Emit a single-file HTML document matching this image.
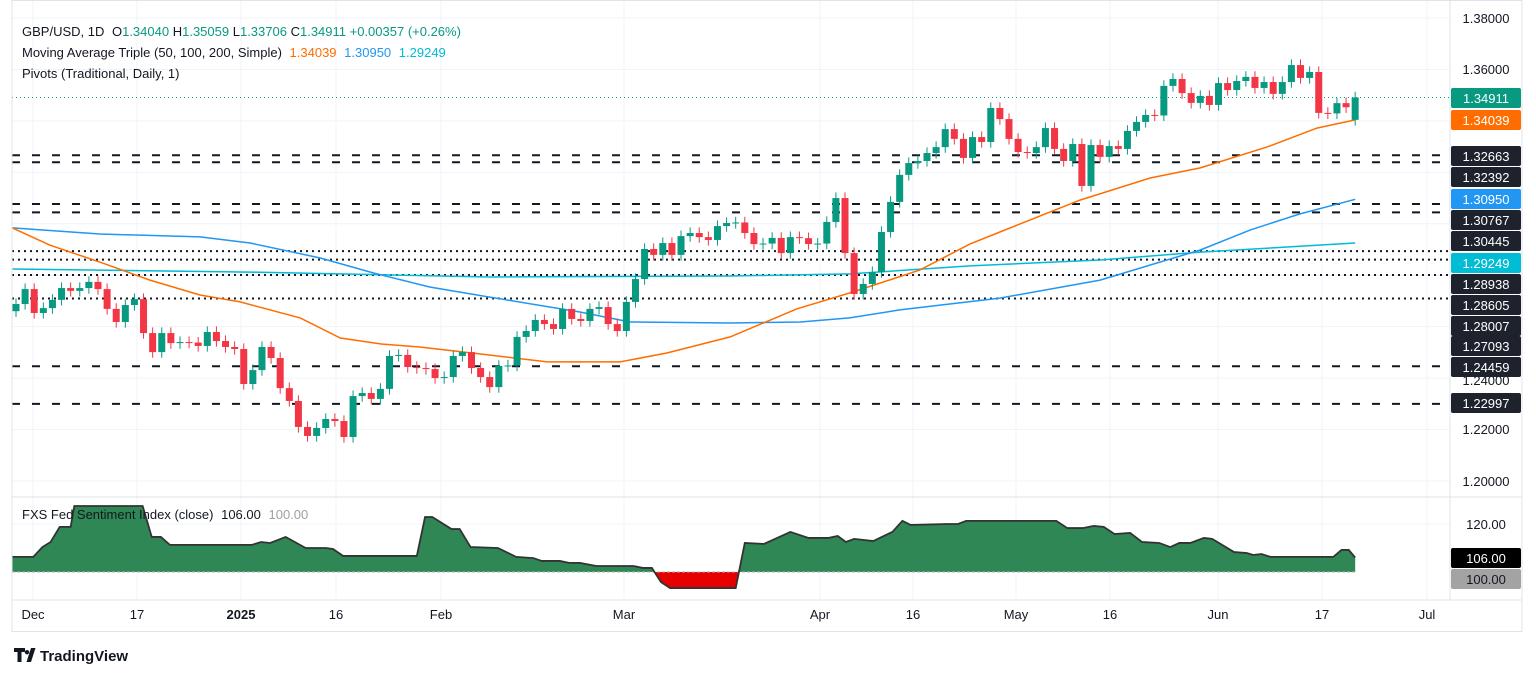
<!DOCTYPE html>
<html><head><meta charset="utf-8"><style>
html,body{margin:0;padding:0;background:#fff;}
svg{display:block;font-family:"Liberation Sans",Arial,sans-serif;}
</style></head><body>
<svg id="chart" width="1536" height="675" viewBox="0 0 1536 675" xmlns="http://www.w3.org/2000/svg">
<g id="grid"></g>
<g id="pivots"></g>
<g id="mas"></g>
<g id="candles"></g>
<g id="sent"></g>
<g id="axes"></g>
<g font-size="13" fill="#131722">
<text x="22" y="36">GBP/USD, 1D <tspan dx="4" fill="#131722">O</tspan><tspan fill="#089981">1.34040</tspan> <tspan fill="#131722">H</tspan><tspan fill="#089981">1.35059</tspan> <tspan fill="#131722">L</tspan><tspan fill="#089981">1.33706</tspan> <tspan fill="#131722">C</tspan><tspan fill="#089981">1.34911 +0.00357 (+0.26%)</tspan></text>
<text x="22" y="57">Moving Average Triple (50, 100, 200, Simple) <tspan dx="4" fill="#ff6d00">1.34039</tspan> <tspan dx="4" fill="#2196f3">1.30950</tspan> <tspan dx="4" fill="#00bcd4">1.29249</tspan></text>
<text x="22" y="78">Pivots (Traditional, Daily, 1)</text>
<text x="22" y="519">FXS Fed Sentiment Index (close) <tspan dx="4">106.00</tspan> <tspan dx="4" fill="#a0a0a0">100.00</tspan></text>
</g>
<g>
<path d="M14 648h11v4h-3.5v10h-4v-10H14z M27 650a2.2 2.2 0 1 0 0.01 0z M31 648h4.5l-4.5 14h-4.5z" fill="#131722"/>
<text x="40" y="661" font-size="15" font-weight="bold" fill="#131722">TradingView</text>
</g>
</svg>
<script>
// ---- data ----
const closes = [1.2688,1.2746,1.2653,1.2672,1.2704,1.2750,1.2739,1.2750,1.2774,1.2746,1.2669,1.2618,1.2684,1.2707,1.2575,1.2501,1.2575,1.2536,1.2540,1.2538,1.2525,1.2579,1.2544,1.2521,1.2513,1.2377,
1.2431,1.2521,1.2478,1.2361,1.2311,1.2210,1.2175,1.2206,1.2241,1.2233,1.2171,1.2330,1.2342,1.2319,1.2358,1.2486,1.2490,1.2443,1.2439,1.2435,1.2400,1.2404,1.2486,1.2501,1.2439,1.2404,1.2365,
1.2447,1.2449,1.2560,1.2583,1.2626,1.2610,1.2591,1.2669,1.2630,1.2622,1.2669,1.2676,1.2610,1.2583,1.2696,1.2785,1.2902,1.2879,1.2925,1.2879,1.2952,1.2964,1.2948,1.2937,1.2991,1.3003,
1.3005,1.2964,1.2921,1.2923,1.2945,1.2886,1.2948,1.2944,1.2921,1.2923,1.3007,1.3100,1.2886,1.2727,1.2766,1.2812,1.2968,1.3085,1.3190,1.3236,1.3244,1.3275,1.3298,1.3368,1.3330,1.3256,
1.3337,1.3318,1.3450,1.3407,1.3330,1.3279,1.3275,1.3298,1.3372,1.3291,1.3244,1.3310,1.3147,1.3306,1.3260,1.3302,1.3291,1.3361,1.3396,1.3423,1.3421,1.3536,1.3563,1.3508,1.3470,1.3497,
1.3462,1.3547,1.3520,1.3555,1.3571,1.3528,1.3551,1.3505,1.3551,1.3617,1.3567,1.3590,1.3431,1.3429,1.3469,1.3453,1.3491];
const firstOpen = 1.2660;
const lastOpen = 1.3404;
const ma50Idx = [-0.4,3.7,9.2,14.7,20.2,24.6,31.2,35.6,40.0,44.3,50.9,58.3,66.3,71.5,78.4,85.7,91.9,99.2,104.7,108.0,116.8,124.5,130.0,137.3,142.8,147];
const ma50Val = [1.2984,1.2917,1.2851,1.2781,1.2723,1.2696,1.2634,1.2556,1.2533,1.2521,1.2494,1.2463,1.2463,1.2498,1.2560,1.2669,1.2735,1.2820,1.2921,1.2968,1.3092,1.3178,1.3217,1.3298,1.3372,1.3404];
const ma100Idx = [-0.4,9.2,20.2,25.7,33.4,39.2,45.4,52.0,61.9,67.4,78.4,86.1,91.5,97.0,108.0,119.0,130.0,135.5,140.9,147];
const ma100Val = [1.2984,1.2960,1.2949,1.2925,1.2867,1.2809,1.2754,1.2715,1.2657,1.2618,1.2614,1.2618,1.2634,1.2665,1.2711,1.2781,1.2898,1.2976,1.3038,1.3095];
const ma200Idx = [-0.4,25.7,52.0,78.4,91.5,104.7,119.0,130.0,147];
const ma200Val = [1.2824,1.2812,1.2793,1.2797,1.2805,1.2836,1.2859,1.2890,1.2925];
const pivotDashed = [1.32663,1.32392,1.30767,1.30445,1.24459,1.22997];
const pivotDotted = [1.28938,1.28605,1.28007,1.27093];
const priceTicks = [1.38,1.36,1.34,1.32,1.30,1.28,1.26,1.24,1.22,1.20];
const sentIdx = [-0.4,1.9,2.9,3.8,4.8,6.0,6.4,13.9,14.9,15.9,16.9,25.9,26.9,27.9,29.6,31.8,34.0,34.8,35.9,44.0,44.9,45.7,47.8,48.7,49.9,52.9,54.9,56.8,57.7,59.7,60.7,61.9,63.7,67.8,68.8,69.8,70.8,71.8,79.0,80.0,82.1,85.0,87.0,89.2,90.2,91.1,92.0,94.1,96.2,97.3,98.2,102.2,103.4,104.3,114.2,115.4,117.1,118.3,119.4,120.6,122.3,123.6,125.5,126.7,127.7,128.9,130.4,131.3,133.7,135.1,135.8,136.7,137.7,144.6,145.5,146.3,147];
const sentVal = [106.3,106.3,110.4,112.5,118.8,118.8,127.5,127.5,114.6,114.6,111.3,111.3,112.5,112.1,114.6,110.0,110.0,109.6,106.7,106.7,122.9,122.9,117.9,117.9,110.4,110.0,106.3,105.8,104.6,104.6,103.8,103.8,102.5,102.5,101.7,101.7,95.8,93.3,93.3,112.1,111.7,116.7,114.2,114.2,115.0,112.5,113.8,112.9,116.7,121.3,119.6,120.0,120.0,121.3,121.3,118.3,118.3,119.2,118.8,115.8,116.3,112.5,112.1,110.4,112.1,112.1,114.2,113.8,108.3,107.9,107.1,107.5,106.3,106.3,109.2,109.2,106.0];
const timeLabels = ["Dec","17","2025","16","Feb","Mar","Apr","16","May","16","Jun","17","Jul"];
const timeLabelX = [33,137,241,336,441,624,820,913,1016,1110,1218,1322,1427];

// ---- scales ----
const NS="http://www.w3.org/2000/svg";
const PL=12, PR=1450, PT=0, PB=497;
function xOf(i){return 16+i*9.11;}
function yOf(p){return 18+(1.38-p)*2572;}
function ySent(v){return 572-(v-100)*2.4;}
function mk(tag,attrs,parent){const e=document.createElementNS(NS,tag);for(const k in attrs)e.setAttribute(k,attrs[k]);parent.appendChild(e);return e;}
const G=id=>document.getElementById(id);

// grid
const grid=G('grid');
priceTicks.forEach(p=>{const l=mk('line',{x1:PL,x2:PR,y1:yOf(p),y2:yOf(p),stroke:'#f0f3fa','stroke-width':1},grid);

});
timeLabelX.forEach(x=>{const l=mk('line',{x1:x,x2:x,y1:0,y2:600,stroke:'#f0f3fa','stroke-width':1},grid);

});
[524,572-(-20)*2.4].forEach(y=>{});
const sg=mk('line',{x1:PL,x2:PR,y1:524,y2:524,stroke:'#f0f3fa'},grid);



// pivots
const pv=G('pivots');
pivotDashed.forEach(p=>{const l=mk('line',{x1:PL,x2:PR,y1:yOf(p),y2:yOf(p),stroke:'#131722','stroke-width':2,'stroke-dasharray':'8,12'},pv);

});
pivotDotted.forEach(p=>{const l=mk('line',{x1:PL,x2:PR,y1:yOf(p),y2:yOf(p),stroke:'#131722','stroke-width':2,'stroke-dasharray':'2,4'},pv);

});
const lp=mk('line',{x1:PL,x2:PR,y1:yOf(closes[closes.length-1]),y2:yOf(closes[closes.length-1]),stroke:'#089981','stroke-width':1,'stroke-dasharray':'1,3'},pv);



// MAs
function maLine(idx,val,color,name){const pts=idx.map((d,k)=>xOf(d).toFixed(1)+','+yOf(val[k]).toFixed(1)).join(' ');
const pl=mk('polyline',{points:pts,fill:'none',stroke:color,'stroke-width':1.5},G('mas'));

}
maLine(ma200Idx,ma200Val,'#00bcd4','ma-200-line');
maLine(ma100Idx,ma100Val,'#2196f3','ma-100-line');
maLine(ma50Idx,ma50Val,'#ff6d00','ma-50-line');

// candles
const cg=G('candles');
closes.forEach((c,i)=>{
  let o = i===0?firstOpen:closes[i-1];
  if(i===closes.length-1) o=lastOpen;
  const up=c>=o, col=up?'#089981':'#f23645';
  const hi=Math.max(o,c)+0.0022, lo=Math.min(o,c)-0.0022;
  const x=xOf(i);
  const w=mk('line',{x1:x,x2:x,y1:yOf(hi),y2:yOf(lo),stroke:col,'stroke-width':1},cg);
  
  
  const top=yOf(Math.max(o,c)), h=Math.max(1,yOf(Math.min(o,c))-top);
  const b=mk('rect',{x:x-3.5,y:top,width:7,height:h,fill:col},cg);
  
  
});

// sentiment
const sp=G('sent');
const defs=mk('defs',{},sp);
const ca=mk('clipPath',{id:'above'},defs); mk('rect',{x:0,y:497,width:1536,height:75},ca);
const cb=mk('clipPath',{id:'below'},defs); mk('rect',{x:0,y:572,width:1536,height:40},cb);
const linePts=sentIdx.map((d,k)=>[Math.max(PL,xOf(d)),ySent(sentVal[k])]);
const areaPts=linePts.map(p=>p[0].toFixed(1)+','+p[1].toFixed(1)).join(' ')+` ${linePts[linePts.length-1][0].toFixed(1)},572 ${linePts[0][0].toFixed(1)},572`;
const ag=mk('polygon',{points:areaPts,fill:'#2e8754','clip-path':'url(#above)'},sp);


const ar=mk('polygon',{points:areaPts,fill:'#e60000','clip-path':'url(#below)'},sp);


const bl=mk('line',{x1:PL,x2:xOf(147),y1:572,y2:572,stroke:'#b0b0b0','stroke-dasharray':'3,2'},sp);


const sl=mk('polyline',{points:linePts.map(p=>p.join(',')).join(' '),fill:'none',stroke:'#333','stroke-width':1.8},sp);



// axes & frame
const ax=G('axes');
function ln(a,name){const l=mk('line',a,ax);}
ln({x1:12,x2:1522,y1:497,y2:497,stroke:'#e0e3eb'},'pane-separator');
ln({x1:12,x2:1522,y1:600,y2:600,stroke:'#e0e3eb'},'time-axis-line');
ln({x1:1450,x2:1450,y1:0,y2:600,stroke:'#e0e3eb'},'price-axis-line');
const fr=mk('rect',{x:12,y:0.5,width:1510,height:631,fill:'none',stroke:'#e0e3eb'},ax);


function axLabel(y,txt,bg,fg,name){
  if(bg){const r=mk('rect',{x:1451,y:y-10,width:70,height:20,fill:bg,rx:2},ax);
  
  }
  const t=mk('text',{x:1486,y:y+5,'font-size':13,'text-anchor':'middle',fill:fg},ax);
  t.textContent=txt;
  
  
}
[[1.38,18],[1.36,69],[1.24,380],[1.22,429],[1.20,481]].forEach(a=>axLabel(a[1],a[0].toFixed(5),null,'#131722','price-tick-label'));
axLabel(98,closes[closes.length-1].toFixed(5).replace('1.34910','1.34911'),'#089981','#fff','last-price-label');
axLabel(120,'1.34039','#ff6d00','#fff','ma50-label');
axLabel(199,'1.30950','#2196f3','#fff','ma100-label');
axLabel(263,'1.29249','#00bcd4','#fff','ma200-label');
[['1.32663',156],['1.32392',177],['1.30767',220],['1.30445',241],['1.28938',284],['1.28605',305],['1.28007',326],['1.27093',346],['1.24459',367],['1.22997',403]].forEach(a=>axLabel(a[1],a[0],'#1e222d','#fff','pivot-label'));
axLabel(524,'120.00',null,'#131722','sentiment-tick-label');
axLabel(558,'106.00','#000','#fff','sentiment-value-label');
axLabel(579,'100.00','#a3a3a3','#131722','sentiment-baseline-label');
timeLabels.forEach((s,k)=>{const t=mk('text',{x:timeLabelX[k],y:619,'font-size':13,'text-anchor':'middle',fill:'#131722','font-weight':s==='2025'?'bold':'normal'},ax);
t.textContent=s;

});
</script>
</body></html>
